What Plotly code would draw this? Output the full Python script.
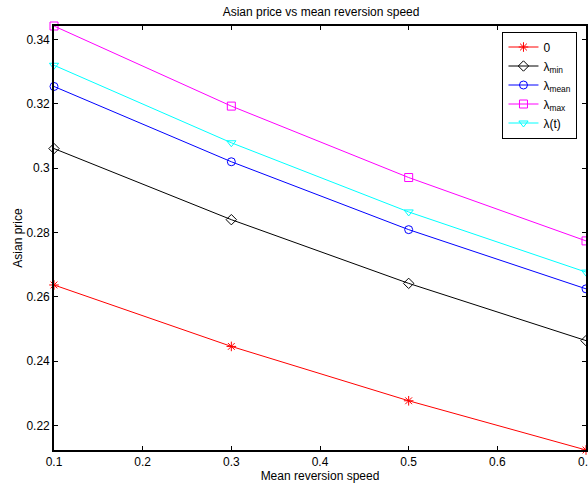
import plotly.graph_objects as go

# Mean reversion speeds and Asian option prices for each volatility scenario
speed = [0.1, 0.3, 0.5, 0.7]
price_zero = [0.2637, 0.2446, 0.2277, 0.2124]
price_lmin = [0.3061, 0.2840, 0.2642, 0.2464]
price_lmean = [0.3254, 0.3020, 0.2809, 0.2625]
price_lmax = [0.3442, 0.3193, 0.2971, 0.2774]
price_lt = [0.3320, 0.3079, 0.2864, 0.2677]

x_ticks = [0.1, 0.2, 0.3, 0.4, 0.5, 0.6, 0.7]
x_labels = ["0.1", "0.2", "0.3", "0.4", "0.5", "0.6", "0.7"]
y_ticks = [0.22, 0.24, 0.26, 0.28, 0.30, 0.32, 0.34]
y_labels = ["0.22", "0.24", "0.26", "0.28", "0.3", "0.32", "0.34"]

series = [
    ("0", price_zero, "#ff0000", "asterisk-open"),
    ("λ<sub>min</sub>", price_lmin, "#000000", "diamond-open"),
    ("λ<sub>mean</sub>", price_lmean, "#0000ff", "circle-open"),
    ("λ<sub>max</sub>", price_lmax, "#ff00ff", "square-open"),
    ("λ(t)", price_lt, "#00ffff", "triangle-down-open"),
]

fig = go.Figure()
for name, vals, color, symbol in series:
    fig.add_trace(go.Scatter(
        x=speed, y=vals, name=name, mode="lines+markers",
        line=dict(color=color, width=1),
        marker=dict(symbol=symbol, size=8, color=color,
                    line=dict(color=color, width=1)),
        cliponaxis=False,
    ))

all_vals = price_zero + price_lmin + price_lmean + price_lmax + price_lt
ymin, ymax = min(all_vals), max(all_vals)

font = dict(family="Liberation Sans, Arial, sans-serif", size=12, color="#000000")
axis_common = dict(
    showgrid=False, zeroline=False, showline=True, linecolor="#000000",
    linewidth=1.6, mirror="ticks", ticks="inside", ticklen=4,
    tickwidth=1, tickcolor="#000000", tickfont=font,
)

fig.update_layout(
    width=588, height=483,
    margin=dict(l=54, r=0, t=26, b=33),
    paper_bgcolor="#ffffff", plot_bgcolor="#ffffff",
    font=font,
    title=dict(text="Asian price vs mean reversion speed", x=0.546,
               xanchor="center", y=0.975, yanchor="middle",
               font=dict(family=font["family"], size=12, color="#000000")),
    xaxis=dict(range=[0.1, 0.7], tickvals=x_ticks, ticktext=x_labels,
               title=dict(text="Mean reversion speed", standoff=2, font=font),
               **axis_common),
    yaxis=dict(range=[ymin, ymax], tickvals=y_ticks, ticktext=y_labels,
               title=dict(text="Asian price", standoff=1, font=font),
               **axis_common),
    legend=dict(x=0.843, y=0.987, xanchor="left", yanchor="top",
                bgcolor="#ffffff", bordercolor="#000000", borderwidth=1,
                font=font, tracegroupgap=0, itemwidth=30),
    showlegend=True,
)

# The last x tick label sits on the right edge of the figure
fig.add_annotation(x=x_ticks[-1], xref="x", y=0, yref="paper",
                   text=x_labels[-1], showarrow=False, xanchor="center",
                   yanchor="top", yshift=-3, font=font)

fig.write_html("out.html")
